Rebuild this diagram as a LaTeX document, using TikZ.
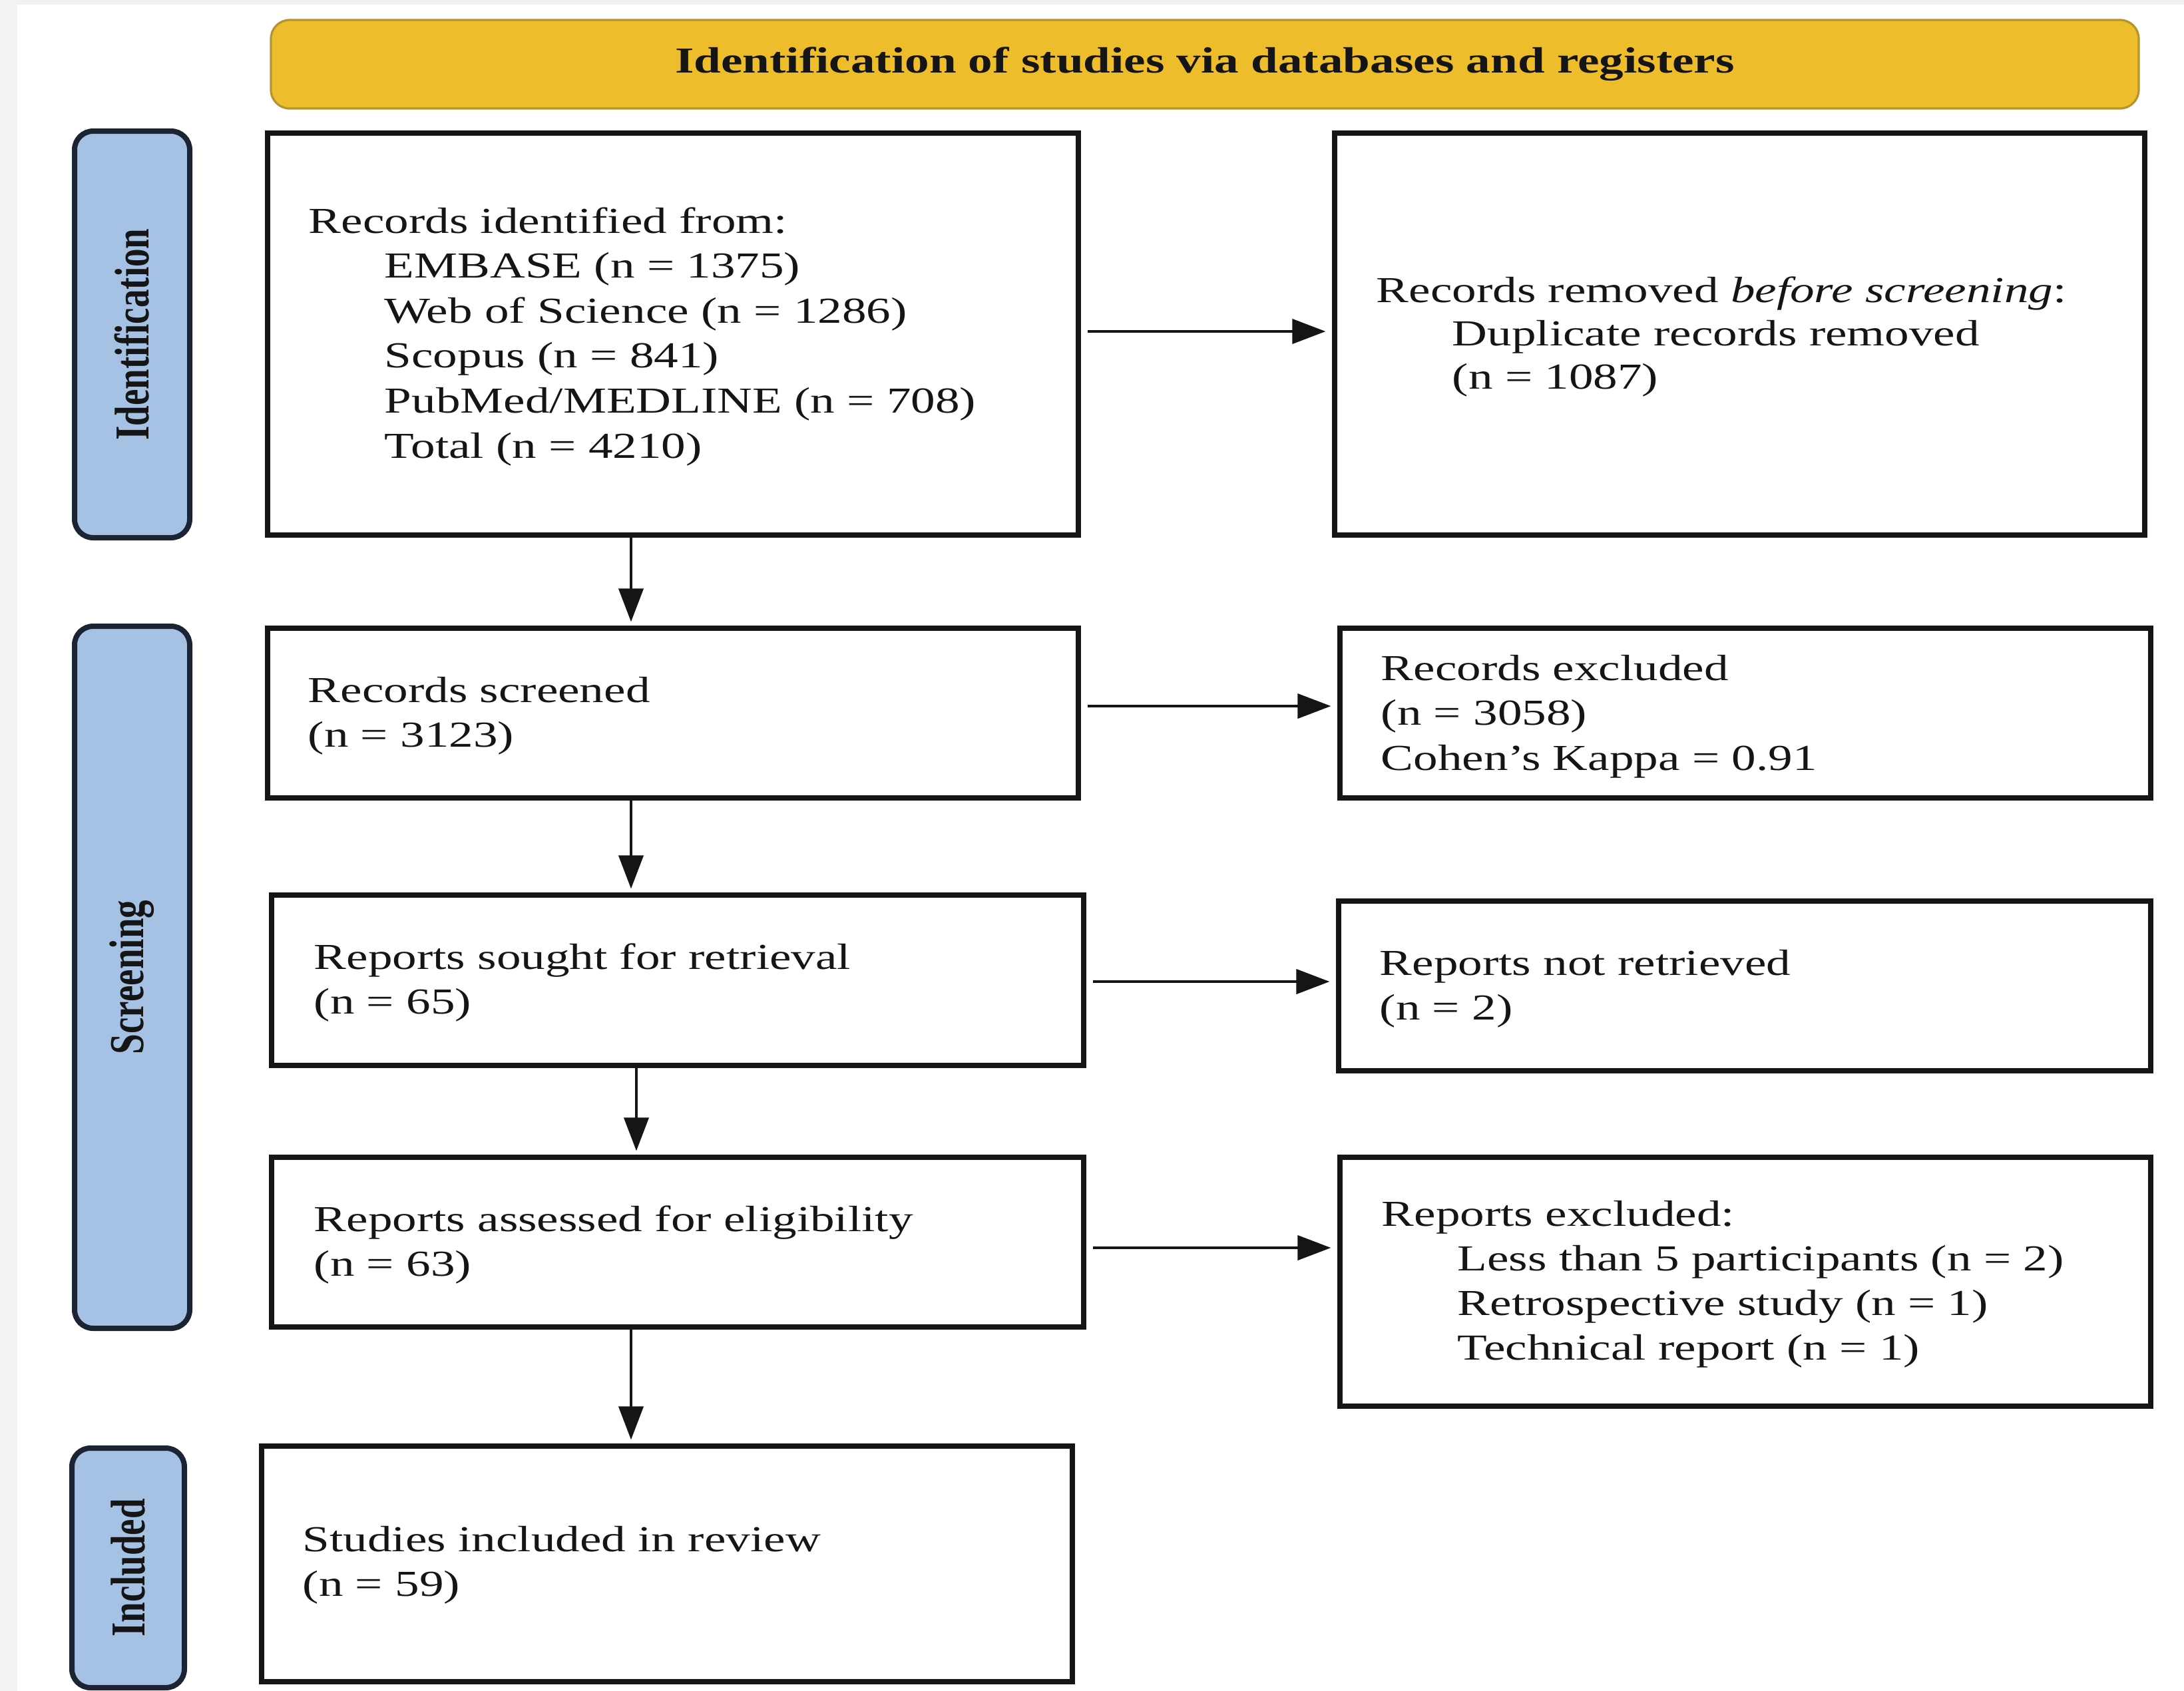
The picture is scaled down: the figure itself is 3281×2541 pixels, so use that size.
\documentclass[tikz,border=0pt]{standalone}
\usepackage{fontspec}
\usepackage{graphicx}
\setmainfont{Liberation Serif}[FakeStretch=1.33]
\newfontfamily\plainserif{Liberation Serif}
\usetikzlibrary{arrows.meta}
\definecolor{bannerfill}{HTML}{EDBD2B}
\definecolor{bannerdraw}{HTML}{B39530}
\definecolor{sidefill}{HTML}{A5C2E5}
\definecolor{sidedraw}{HTML}{1C2333}
\definecolor{framegrey}{HTML}{F2F2F2}
\definecolor{ink}{HTML}{151515}
\newcommand{\boxlines}[2]{\fontsize{13.75pt}{#1}\selectfont\begin{tabular}[t]{@{}l@{}}#2\end{tabular}}
\newcommand{\ind}{\hspace*{28.5pt}}
\begin{document}
\begin{tikzpicture}[x=0.25pt,y=-0.25pt,
  flowbox/.style={draw=ink,line width=1.8pt,fill=white,inner sep=0pt,rectangle},
  sidebox/.style={draw=sidedraw,line width=2pt,fill=sidefill,rounded corners=7pt,inner sep=0pt,rectangle},
  sidelabel/.style={rotate=90,inner sep=0pt,text=ink,font=\fontsize{13.75pt}{16pt}\selectfont},
  boxtext/.style={anchor=base west,inner sep=0pt,text=ink},
  arr/.style={draw=ink,line width=1pt,-{Triangle[length=12.5pt,width=9.25pt]}},
]
% background and frame
\fill[framegrey] (0,0) rectangle (3281,2541);
\fill[white] (26,7) rectangle (3281,2541);
\useasboundingbox (0,0) rectangle (3281,2541);

% banner
\node[draw=bannerdraw,line width=0.8pt,fill=bannerfill,rounded corners=7pt,
      minimum width=701.5pt,minimum height=33.25pt,inner sep=0pt,
      font=\fontsize{13.75pt}{16pt}\selectfont\bfseries,text=ink] (banner) at (1810,96.5)
      {Identification of studies via databases and registers};

% side phase boxes
\node[sidebox,minimum width=43.25pt,minimum height=152.75pt] (s1) at (198.5,502.5) {};
\node[sidebox,minimum width=43.25pt,minimum height=263.75pt] (s2) at (198.5,1468.5) {};
\node[sidebox,minimum width=42.25pt,minimum height=90pt] (s3) at (192.5,2356) {};
\node[sidelabel] (l1) at (s1.center) {\scalebox{1}[1.33]{\plainserif\bfseries Identification}};
\node[sidelabel] (l2) at (s2.center) {\scalebox{1}[1.33]{\plainserif\bfseries Screening}};
\node[sidelabel] (l3) at (s3.center) {\scalebox{1}[1.33]{\plainserif\bfseries Included}};

% flow boxes
\node[flowbox,minimum width=304.5pt,minimum height=151pt] (b1) at (1011,502) {};
\node[flowbox,minimum width=304.25pt,minimum height=151pt] (b2) at (2613.5,502) {};
\node[flowbox,minimum width=304.5pt,minimum height=63.75pt] (b3) at (1011,1071.5) {};
\node[flowbox,minimum width=304.5pt,minimum height=63.75pt] (b4) at (2622,1071.5) {};
\node[flowbox,minimum width=305pt,minimum height=64pt] (b5) at (1018,1473) {};
\node[flowbox,minimum width=305pt,minimum height=63.75pt] (b6) at (2621,1481.5) {};
\node[flowbox,minimum width=305pt,minimum height=63.75pt] (b7) at (1018,1866.5) {};
\node[flowbox,minimum width=304.5pt,minimum height=93.5pt] (b8) at (2622,1926) {};
\node[flowbox,minimum width=304.5pt,minimum height=88.5pt] (b9) at (1002,2350) {};

% texts
\node[boxtext] (t1) at (463,350) {\boxlines{16.9pt}{Records identified from:\\
  \ind EMBASE (n = 1375)\\
  \ind Web of Science (n = 1286)\\
  \ind Scopus (n = 841)\\
  \ind PubMed/MEDLINE (n = 708)\\
  \ind Total (n = 4210)}};
\node[boxtext] (t2) at (2067,454) {\boxlines{16.25pt}{Records removed \textit{before screening}:\\
  \ind Duplicate records removed\\
  \ind (n = 1087)}};
\node[boxtext] (t3) at (462,1055) {\boxlines{16.75pt}{Records screened\\(n = 3123)}};
\node[boxtext] (t4) at (2074,1022) {\boxlines{16.9pt}{Records excluded\\(n = 3058)\\Cohen’s Kappa = 0.91}};
\node[boxtext] (t5) at (471,1456) {\boxlines{16.75pt}{Reports sought for retrieval\\(n = 65)}};
\node[boxtext] (t6) at (2072,1465) {\boxlines{16.75pt}{Reports not retrieved\\(n = 2)}};
\node[boxtext] (t7) at (471,1850) {\boxlines{16.75pt}{Reports assessed for eligibility\\(n = 63)}};
\node[boxtext] (t8) at (2075,1842) {\boxlines{16.75pt}{Reports excluded:\\
  \ind Less than 5 participants (n = 2)\\
  \ind Retrospective study (n = 1)\\
  \ind Technical report (n = 1)}};
\node[boxtext] (t9) at (454,2331) {\boxlines{16.75pt}{Studies included in review\\(n = 59)}};

% connector guide coordinates
\coordinate (va) at (948,0);
\coordinate (vb) at (956,0);
\coordinate (h1) at (0,498);
\coordinate (h2) at (0,1061);
\coordinate (h3) at (0,1475);
\coordinate (h4) at (0,1875);

% vertical arrows
\draw[arr,shorten >=1.5pt] (b1.south -| va) -- (b3.north -| va);
\draw[arr,shorten >=1.5pt] (b3.south -| va) -- (b5.north -| va);
\draw[arr,shorten >=1.5pt] (b5.south -| vb) -- (b7.north -| vb);
\draw[arr,shorten >=1.5pt] (b7.south -| va) -- (b9.north -| va);

% horizontal arrows
\draw[arr,shorten <=2.5pt,shorten >=2.5pt] (b1.east |- h1) -- (b2.west |- h1);
\draw[arr,shorten <=2.5pt,shorten >=2.5pt] (b3.east |- h2) -- (b4.west |- h2);
\draw[arr,shorten <=2.5pt,shorten >=2.5pt] (b5.east |- h3) -- (b6.west |- h3);
\draw[arr,shorten <=2.5pt,shorten >=2.5pt] (b7.east |- h4) -- (b8.west |- h4);
\end{tikzpicture}
\end{document}
